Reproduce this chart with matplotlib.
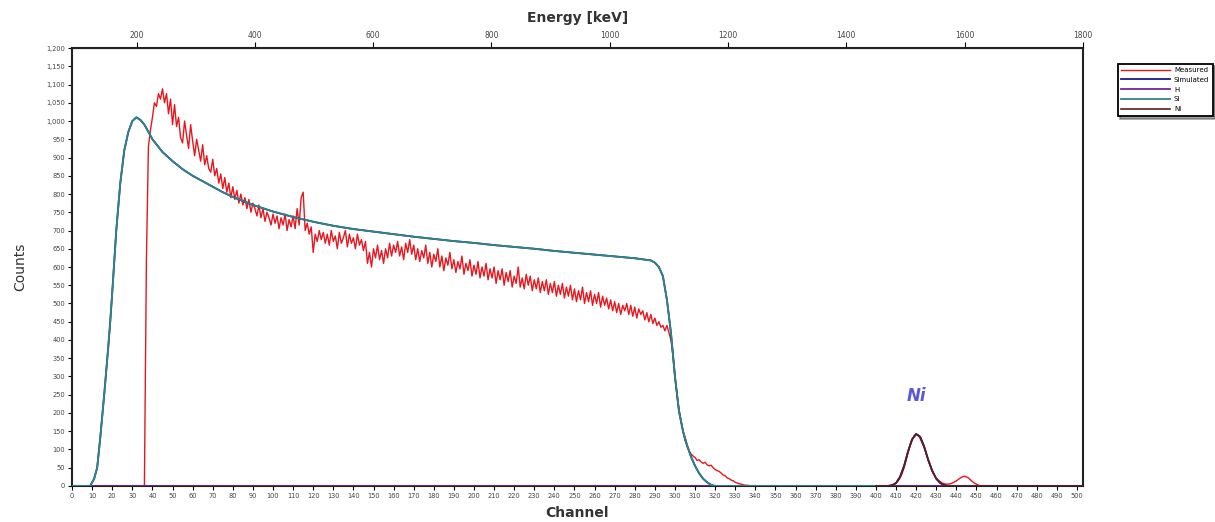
import numpy as np
import matplotlib
matplotlib.use("Agg")
import matplotlib.pyplot as plt

# ---------------- data ----------------
meas_start = 30
meas_counts = [
    0, 0, 0, 0, 0, 0, 0, 620, 930, 975,
    1010, 1050, 1040, 1075, 1060, 1088, 1050, 1075, 1020, 1060,
    990, 1045, 985, 1010, 955, 940, 1000, 960, 925, 990,
    945, 905, 950, 920, 890, 935, 880, 905, 870, 860,
    895, 850, 870, 830, 855, 815, 845, 805, 830, 790,
    820, 785, 810, 775, 800, 770, 790, 760, 785, 750,
    775, 760, 740, 770, 735, 760, 725, 750, 735, 715,
    745, 720, 740, 705, 735, 715, 745, 700, 730, 710,
    740, 705, 760, 715, 790, 805, 700, 720, 690, 710,
    640, 690, 670, 700, 675, 695, 665, 690, 660, 700,
    670, 685, 650, 695, 665, 680, 700, 655, 690, 665,
    680, 650, 690, 660, 675, 645, 670, 610, 640, 600,
    650, 625, 660, 620, 645, 610, 650, 625, 665, 630,
    660, 640, 670, 630, 655, 620, 665, 640, 675, 635,
    660, 620, 650, 615, 645, 625, 660, 610, 640, 600,
    635, 615, 650, 600, 630, 590, 625, 605, 640, 595,
    620, 585, 615, 595, 630, 580, 610, 590, 620, 575,
    605, 580, 615, 570, 600, 575, 610, 565, 595, 570,
    600, 555, 590, 565, 595, 550, 585, 560, 590, 545,
    575, 555, 600, 545, 570, 540, 580, 550, 575, 535,
    565, 540, 570, 530, 560, 535, 565, 525, 555, 530,
    560, 520, 550, 525, 555, 515, 545, 520, 550, 510,
    540, 505, 535, 510, 545, 500, 530, 505, 535, 495,
    525, 500, 530, 490, 520, 495, 515, 485, 510, 480,
    505, 475, 500, 470, 495, 480, 500, 470, 495, 465,
    490, 460, 485, 470, 480, 455, 475, 450, 470, 445,
    460, 440, 450, 435, 440, 425, 440, 420, 400, 360,
    300, 250, 210, 180, 150, 125, 110, 95, 88, 82,
    78, 70, 72, 66, 62, 65, 58, 55, 57, 50,
    45, 42, 40, 35, 30, 28, 22, 20, 16, 14,
    10, 8, 6, 5, 3, 2, 2, 1, 0, 0,
]

ni_meas_start = 400
ni_meas_counts = [
    0, 0, 0, 0, 0, 0, 1, 1, 2, 4,
    8, 14, 22, 34, 50, 70, 92, 110, 125, 138,
    143, 140, 130, 118, 105, 88, 70, 55, 40, 30,
    22, 16, 12, 8, 6, 5, 5, 6, 8, 11,
    14, 18, 22, 25, 27, 25, 22, 17, 12, 8,
    5, 2, 0, 0,
]

si_channels = [0, 9, 11, 12.5, 14, 16, 18, 19, 20, 22, 24, 26, 28, 30, 32, 34,
               36, 38, 40, 45, 50, 55, 60, 65, 70, 75, 80, 90, 100, 110, 120,
               130, 140, 150, 160, 170, 180, 190, 200, 210, 220, 230, 240, 250,
               260, 270, 280, 288, 290, 292, 294, 296, 298, 300, 302, 304, 306,
               308, 310, 312, 314, 316, 318, 320, 400]
si_counts = [0, 0, 20, 50, 130, 250, 380, 450, 530, 700, 830, 920, 970, 1000,
             1010, 1003, 990, 970, 950, 915, 890, 868, 850, 835, 820, 805, 792,
             770, 752, 737, 724, 713, 704, 697, 690, 683, 677, 671, 666, 660,
             655, 650, 644, 639, 634, 629, 624, 618, 612, 600, 575, 510, 420,
             300, 205, 150, 112, 80, 55, 35, 20, 10, 3, 0, 0]

ni_channels = [400, 406, 408, 410, 412, 414, 416, 418, 420, 422, 424, 426, 428,
               430, 432, 434, 436, 440, 444, 448, 452, 503]
ni_counts = [0, 0, 2, 8, 25, 55, 95, 128, 142, 135, 108, 72, 42, 20, 8, 2, 0,
             0, 0, 0, 0, 0]

legend_labels = ["Measured", "Simulated", "H", "Si", "Ni"]
x_ticks = list(range(0, 501, 10))
y_ticks = list(range(0, 1201, 50))
energy_ticks = [200, 400, 600, 800, 1000, 1200, 1400, 1600, 1800]

# energy calibration (keV = offset + gain * channel)
e_offset, e_gain = 90.9, 3.398

# ---------------- figure ----------------
fig = plt.figure(figsize=(12.15, 5.22), dpi=100)
ax = fig.add_axes([0.0593, 0.069, 0.832, 0.839])

meas_x = meas_start + np.arange(len(meas_counts))
ni_meas_x = ni_meas_start + np.arange(len(ni_meas_counts))
meas_all_x = np.concatenate([meas_x, np.arange(meas_x[-1] + 1, ni_meas_start), ni_meas_x])
meas_all_y = np.concatenate([meas_counts, np.zeros(ni_meas_start - meas_x[-1] - 1), ni_meas_counts])

sim_x = si_channels[:-1] + ni_channels
sim_y = si_counts[:-1] + ni_counts

red = "#e8161e"
ax.plot(meas_all_x, meas_all_y, color=red, lw=1.0, label=legend_labels[0], zorder=2)
ax.plot(sim_x, sim_y, color="#1a1a8c", lw=1.3, label=legend_labels[1], zorder=3)
ax.plot([0, 503], [0, 0], color="#6a2a9a", lw=1.3, label=legend_labels[2], zorder=3)
ax.plot(si_channels, si_counts, color="#2e8585", lw=1.3, label=legend_labels[3], zorder=4)
ax.plot(ni_channels, ni_counts, color="#5a2020", lw=1.2, label=legend_labels[4], zorder=4)

ax.text(420, 222, "Ni", color="#5a5ad8", fontsize=12, fontweight="bold",
        fontstyle="italic", ha="center", va="bottom")

ax.set_xlim(0, 503)
ax.set_ylim(0, 1200)

ax.set_xticks(x_ticks)
ax.set_xticklabels([str(v) for v in x_ticks], fontsize=4.8, color="#444444")
ax.set_yticks(y_ticks)
ax.set_yticklabels([f"{v:,}" for v in y_ticks], fontsize=4.8, color="#444444")
ax.tick_params(axis="both", direction="out", length=3, width=0.8, pad=2)

for s in ax.spines.values():
    s.set_linewidth(1.5)
    s.set_color("#222222")

top = ax.secondary_xaxis("top", functions=(lambda c: e_offset + e_gain * c,
                                           lambda e: (e - e_offset) / e_gain))
top.set_xticks(energy_ticks)
top.set_xticklabels([str(v) for v in energy_ticks], fontsize=5.5, color="#444444")
top.tick_params(direction="out", length=4, width=0.8, pad=2)
top.set_xlabel("Energy [keV]", fontsize=10, fontweight="bold", color="#333333", labelpad=6)

ax.set_xlabel("Channel", fontsize=10, fontweight="bold", color="#333333", labelpad=5)
ax.set_ylabel("Counts", fontsize=10, color="#333333", labelpad=14)

leg = fig.legend(loc="upper left", bbox_to_anchor=(0.917, 0.885), fontsize=5,
                 frameon=True, fancybox=False, shadow=True, handlelength=7,
                 borderpad=0.5, labelspacing=0.55, handletextpad=0.6)
leg.get_frame().set_edgecolor("black")
leg.get_frame().set_linewidth(1.3)

fig.savefig("out.png", dpi=100)
